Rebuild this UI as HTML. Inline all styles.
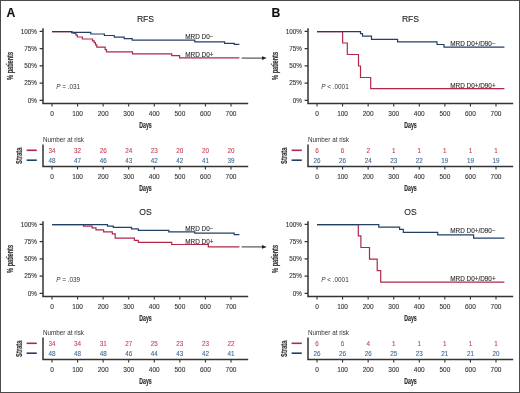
<!DOCTYPE html>
<html><head><meta charset="utf-8"><style>
html,body{margin:0;padding:0;background:#fff;width:520px;height:393px;overflow:hidden;position:relative}
svg text{font-family:"Liberation Sans", sans-serif;stroke-width:0.1px}
svg{filter:blur(0.35px)}
</style></head><body>
<svg width="520" height="393" viewBox="0 0 520 393" style="display:block" font-family="'Liberation Sans', sans-serif">
<rect x="0" y="0" width="520" height="393" fill="#fff"/>
<g transform="translate(0,0)">
<text x="6.5" y="16.9" font-size="12.2" font-weight="bold" fill="#111" stroke="#111" stroke-width="0.3">A</text>
<text x="145.50" y="22.20" font-size="8.6" text-anchor="middle" fill="#222" stroke="#222" >RFS</text>
<path d="M43,28.2V104.2 M42.2,103.5H248.2" stroke="#333" stroke-width="1.5" fill="none"/>
<path d="M39.6,31.40H43M39.6,48.65H43M39.6,65.90H43M39.6,83.15H43M39.6,100.40H43M52.00,103.5V106.6M77.57,103.5V106.6M103.14,103.5V106.6M128.71,103.5V106.6M154.28,103.5V106.6M179.85,103.5V106.6M205.42,103.5V106.6M230.99,103.5V106.6" stroke="#333" stroke-width="1.1" fill="none"/>
<text x="37.00" y="33.70" font-size="6.4" text-anchor="end" fill="#333" stroke="#333" >100%</text>
<text x="37.00" y="50.95" font-size="6.4" text-anchor="end" fill="#333" stroke="#333" >75%</text>
<text x="37.00" y="68.20" font-size="6.4" text-anchor="end" fill="#333" stroke="#333" >50%</text>
<text x="37.00" y="85.45" font-size="6.4" text-anchor="end" fill="#333" stroke="#333" >25%</text>
<text x="37.00" y="102.70" font-size="6.4" text-anchor="end" fill="#333" stroke="#333" >0%</text>
<text x="52.00" y="115.80" font-size="6.5" text-anchor="middle" fill="#333" stroke="#333" >0</text>
<text x="77.57" y="115.80" font-size="6.5" text-anchor="middle" fill="#333" stroke="#333" >100</text>
<text x="103.14" y="115.80" font-size="6.5" text-anchor="middle" fill="#333" stroke="#333" >200</text>
<text x="128.71" y="115.80" font-size="6.5" text-anchor="middle" fill="#333" stroke="#333" >300</text>
<text x="154.28" y="115.80" font-size="6.5" text-anchor="middle" fill="#333" stroke="#333" >400</text>
<text x="179.85" y="115.80" font-size="6.5" text-anchor="middle" fill="#333" stroke="#333" >500</text>
<text x="205.42" y="115.80" font-size="6.5" text-anchor="middle" fill="#333" stroke="#333" >600</text>
<text x="230.99" y="115.80" font-size="6.5" text-anchor="middle" fill="#333" stroke="#333" >700</text>
<text x="145.5" y="127.8" font-size="8.2" font-weight="bold" text-anchor="middle" fill="#333" stroke="#333" style="stroke-width:0.2px" textLength="12.4" lengthAdjust="spacingAndGlyphs">Days</text>
<text transform="translate(13.3,65.9) rotate(-90)" x="0" y="0" font-size="8.2" font-weight="bold" text-anchor="middle" fill="#333" stroke="#333" style="stroke-width:0.2px" textLength="28" lengthAdjust="spacingAndGlyphs">% patients</text>
<text x="56.2" y="89.2" font-size="6.4" fill="#333"><tspan font-style="italic">P</tspan> = .031</text>
<path d="M52.00,31.70H71.80V32.90H73.90V33.50H76.00V35.20H77.30V37.00H82.40V39.00H92.50V40.80H94.20V42.60H95.50V44.80H96.80V47.20H105.20V49.60H106.50V51.80H132.50V53.80H171.80V55.70H179.60V57.90H239.40" stroke="#b0294a" stroke-width="1.2" fill="none"/>
<path d="M52.00,31.70H71.80V32.30H90.80V34.00H104.40V35.50H114.20V37.10H124.20V38.60H132.20V40.20H194.80V41.80H224.60V43.30H234.20V44.40H239.40" stroke="#223f66" stroke-width="1.2" fill="none"/>
<text x="185.20" y="38.60" font-size="6.4" text-anchor="start" fill="#2a2a2a" stroke="#2a2a2a" >MRD D0&#8722;</text>
<text x="185.20" y="57.20" font-size="6.4" text-anchor="start" fill="#2a2a2a" stroke="#2a2a2a" >MRD D0+</text>
<path d="M241.7,58.1H262.5" stroke="#444" stroke-width="1.1"/>
<path d="M262,56.2L266.8,58.1L262,60.0Z" fill="#222"/>
<text x="43" y="141.8" font-size="6.3" fill="#333">Number at risk</text>
<path d="M26.6,150.3H36.8" stroke="#b0294a" stroke-width="1.6"/>
<path d="M26.6,160.2H36.8" stroke="#223f66" stroke-width="1.6"/>
<text transform="translate(21.6,155.7) rotate(-90)" x="0" y="0" font-size="8.4" font-weight="bold" text-anchor="middle" fill="#333" stroke="#333" style="stroke-width:0.2px" textLength="16.4" lengthAdjust="spacingAndGlyphs">Strata</text>
<path d="M43,144.6V167.2 M42.2,166.5H248.2" stroke="#333" stroke-width="1.5" fill="none"/>
<path d="M52.00,166.5V169.6M77.57,166.5V169.6M103.14,166.5V169.6M128.71,166.5V169.6M154.28,166.5V169.6M179.85,166.5V169.6M205.42,166.5V169.6M230.99,166.5V169.6" stroke="#333" stroke-width="1.1" fill="none"/>
<text x="52.00" y="152.50" font-size="6.3" text-anchor="middle" fill="#c9445e" stroke="#c9445e" >34</text>
<text x="52.00" y="162.60" font-size="6.3" text-anchor="middle" fill="#466a94" stroke="#466a94" >48</text>
<text x="52.00" y="178.60" font-size="6.5" text-anchor="middle" fill="#333" stroke="#333" >0</text>
<text x="77.57" y="152.50" font-size="6.3" text-anchor="middle" fill="#c9445e" stroke="#c9445e" >32</text>
<text x="77.57" y="162.60" font-size="6.3" text-anchor="middle" fill="#466a94" stroke="#466a94" >47</text>
<text x="77.57" y="178.60" font-size="6.5" text-anchor="middle" fill="#333" stroke="#333" >100</text>
<text x="103.14" y="152.50" font-size="6.3" text-anchor="middle" fill="#c9445e" stroke="#c9445e" >26</text>
<text x="103.14" y="162.60" font-size="6.3" text-anchor="middle" fill="#466a94" stroke="#466a94" >46</text>
<text x="103.14" y="178.60" font-size="6.5" text-anchor="middle" fill="#333" stroke="#333" >200</text>
<text x="128.71" y="152.50" font-size="6.3" text-anchor="middle" fill="#c9445e" stroke="#c9445e" >24</text>
<text x="128.71" y="162.60" font-size="6.3" text-anchor="middle" fill="#466a94" stroke="#466a94" >43</text>
<text x="128.71" y="178.60" font-size="6.5" text-anchor="middle" fill="#333" stroke="#333" >300</text>
<text x="154.28" y="152.50" font-size="6.3" text-anchor="middle" fill="#c9445e" stroke="#c9445e" >23</text>
<text x="154.28" y="162.60" font-size="6.3" text-anchor="middle" fill="#466a94" stroke="#466a94" >42</text>
<text x="154.28" y="178.60" font-size="6.5" text-anchor="middle" fill="#333" stroke="#333" >400</text>
<text x="179.85" y="152.50" font-size="6.3" text-anchor="middle" fill="#c9445e" stroke="#c9445e" >20</text>
<text x="179.85" y="162.60" font-size="6.3" text-anchor="middle" fill="#466a94" stroke="#466a94" >42</text>
<text x="179.85" y="178.60" font-size="6.5" text-anchor="middle" fill="#333" stroke="#333" >500</text>
<text x="205.42" y="152.50" font-size="6.3" text-anchor="middle" fill="#c9445e" stroke="#c9445e" >20</text>
<text x="205.42" y="162.60" font-size="6.3" text-anchor="middle" fill="#466a94" stroke="#466a94" >41</text>
<text x="205.42" y="178.60" font-size="6.5" text-anchor="middle" fill="#333" stroke="#333" >600</text>
<text x="230.99" y="152.50" font-size="6.3" text-anchor="middle" fill="#c9445e" stroke="#c9445e" >20</text>
<text x="230.99" y="162.60" font-size="6.3" text-anchor="middle" fill="#466a94" stroke="#466a94" >39</text>
<text x="230.99" y="178.60" font-size="6.5" text-anchor="middle" fill="#333" stroke="#333" >700</text>
<text x="145.5" y="191.3" font-size="8.2" font-weight="bold" text-anchor="middle" fill="#333" stroke="#333" style="stroke-width:0.2px" textLength="12.4" lengthAdjust="spacingAndGlyphs">Days</text>
</g>
<g transform="translate(265,0)">
<text x="6.5" y="16.9" font-size="12.2" font-weight="bold" fill="#111" stroke="#111" stroke-width="0.3">B</text>
<text x="145.50" y="22.20" font-size="8.6" text-anchor="middle" fill="#222" stroke="#222" >RFS</text>
<path d="M43,28.2V104.2 M42.2,103.5H248.2" stroke="#333" stroke-width="1.5" fill="none"/>
<path d="M39.6,31.40H43M39.6,48.65H43M39.6,65.90H43M39.6,83.15H43M39.6,100.40H43M52.00,103.5V106.6M77.57,103.5V106.6M103.14,103.5V106.6M128.71,103.5V106.6M154.28,103.5V106.6M179.85,103.5V106.6M205.42,103.5V106.6M230.99,103.5V106.6" stroke="#333" stroke-width="1.1" fill="none"/>
<text x="37.00" y="33.70" font-size="6.4" text-anchor="end" fill="#333" stroke="#333" >100%</text>
<text x="37.00" y="50.95" font-size="6.4" text-anchor="end" fill="#333" stroke="#333" >75%</text>
<text x="37.00" y="68.20" font-size="6.4" text-anchor="end" fill="#333" stroke="#333" >50%</text>
<text x="37.00" y="85.45" font-size="6.4" text-anchor="end" fill="#333" stroke="#333" >25%</text>
<text x="37.00" y="102.70" font-size="6.4" text-anchor="end" fill="#333" stroke="#333" >0%</text>
<text x="52.00" y="115.80" font-size="6.5" text-anchor="middle" fill="#333" stroke="#333" >0</text>
<text x="77.57" y="115.80" font-size="6.5" text-anchor="middle" fill="#333" stroke="#333" >100</text>
<text x="103.14" y="115.80" font-size="6.5" text-anchor="middle" fill="#333" stroke="#333" >200</text>
<text x="128.71" y="115.80" font-size="6.5" text-anchor="middle" fill="#333" stroke="#333" >300</text>
<text x="154.28" y="115.80" font-size="6.5" text-anchor="middle" fill="#333" stroke="#333" >400</text>
<text x="179.85" y="115.80" font-size="6.5" text-anchor="middle" fill="#333" stroke="#333" >500</text>
<text x="205.42" y="115.80" font-size="6.5" text-anchor="middle" fill="#333" stroke="#333" >600</text>
<text x="230.99" y="115.80" font-size="6.5" text-anchor="middle" fill="#333" stroke="#333" >700</text>
<text x="145.5" y="127.8" font-size="8.2" font-weight="bold" text-anchor="middle" fill="#333" stroke="#333" style="stroke-width:0.2px" textLength="12.4" lengthAdjust="spacingAndGlyphs">Days</text>
<text transform="translate(13.3,65.9) rotate(-90)" x="0" y="0" font-size="8.2" font-weight="bold" text-anchor="middle" fill="#333" stroke="#333" style="stroke-width:0.2px" textLength="28" lengthAdjust="spacingAndGlyphs">% patients</text>
<text x="56.2" y="89.2" font-size="6.4" fill="#333"><tspan font-style="italic">P</tspan> &lt; .0001</text>
<path d="M52.00,31.70H77.60V43.00H82.30V54.50H93.50V66.00H95.50V77.50H105.70V88.60H239.40" stroke="#b0294a" stroke-width="1.2" fill="none"/>
<path d="M52.00,31.70H95.50V33.60H97.50V36.20H106.50V39.30H132.60V41.90H172.00V44.50H179.00V47.20H239.40" stroke="#223f66" stroke-width="1.2" fill="none"/>
<text x="185.20" y="46.20" font-size="6.4" text-anchor="start" fill="#2a2a2a" stroke="#2a2a2a" >MRD D0+/D90&#8722;</text>
<text x="185.20" y="87.60" font-size="6.4" text-anchor="start" fill="#2a2a2a" stroke="#2a2a2a" >MRD D0+/D90+</text>
<text x="43" y="141.8" font-size="6.3" fill="#333">Number at risk</text>
<path d="M26.6,150.3H36.8" stroke="#b0294a" stroke-width="1.6"/>
<path d="M26.6,160.2H36.8" stroke="#223f66" stroke-width="1.6"/>
<text transform="translate(21.6,155.7) rotate(-90)" x="0" y="0" font-size="8.4" font-weight="bold" text-anchor="middle" fill="#333" stroke="#333" style="stroke-width:0.2px" textLength="16.4" lengthAdjust="spacingAndGlyphs">Strata</text>
<path d="M43,144.6V167.2 M42.2,166.5H248.2" stroke="#333" stroke-width="1.5" fill="none"/>
<path d="M52.00,166.5V169.6M77.57,166.5V169.6M103.14,166.5V169.6M128.71,166.5V169.6M154.28,166.5V169.6M179.85,166.5V169.6M205.42,166.5V169.6M230.99,166.5V169.6" stroke="#333" stroke-width="1.1" fill="none"/>
<text x="52.00" y="152.50" font-size="6.3" text-anchor="middle" fill="#c9445e" stroke="#c9445e" >6</text>
<text x="52.00" y="162.60" font-size="6.3" text-anchor="middle" fill="#466a94" stroke="#466a94" >26</text>
<text x="52.00" y="178.60" font-size="6.5" text-anchor="middle" fill="#333" stroke="#333" >0</text>
<text x="77.57" y="152.50" font-size="6.3" text-anchor="middle" fill="#c9445e" stroke="#c9445e" >6</text>
<text x="77.57" y="162.60" font-size="6.3" text-anchor="middle" fill="#466a94" stroke="#466a94" >26</text>
<text x="77.57" y="178.60" font-size="6.5" text-anchor="middle" fill="#333" stroke="#333" >100</text>
<text x="103.14" y="152.50" font-size="6.3" text-anchor="middle" fill="#c9445e" stroke="#c9445e" >2</text>
<text x="103.14" y="162.60" font-size="6.3" text-anchor="middle" fill="#466a94" stroke="#466a94" >24</text>
<text x="103.14" y="178.60" font-size="6.5" text-anchor="middle" fill="#333" stroke="#333" >200</text>
<text x="128.71" y="152.50" font-size="6.3" text-anchor="middle" fill="#c9445e" stroke="#c9445e" >1</text>
<text x="128.71" y="162.60" font-size="6.3" text-anchor="middle" fill="#466a94" stroke="#466a94" >23</text>
<text x="128.71" y="178.60" font-size="6.5" text-anchor="middle" fill="#333" stroke="#333" >300</text>
<text x="154.28" y="152.50" font-size="6.3" text-anchor="middle" fill="#c9445e" stroke="#c9445e" >1</text>
<text x="154.28" y="162.60" font-size="6.3" text-anchor="middle" fill="#466a94" stroke="#466a94" >22</text>
<text x="154.28" y="178.60" font-size="6.5" text-anchor="middle" fill="#333" stroke="#333" >400</text>
<text x="179.85" y="152.50" font-size="6.3" text-anchor="middle" fill="#c9445e" stroke="#c9445e" >1</text>
<text x="179.85" y="162.60" font-size="6.3" text-anchor="middle" fill="#466a94" stroke="#466a94" >19</text>
<text x="179.85" y="178.60" font-size="6.5" text-anchor="middle" fill="#333" stroke="#333" >500</text>
<text x="205.42" y="152.50" font-size="6.3" text-anchor="middle" fill="#c9445e" stroke="#c9445e" >1</text>
<text x="205.42" y="162.60" font-size="6.3" text-anchor="middle" fill="#466a94" stroke="#466a94" >19</text>
<text x="205.42" y="178.60" font-size="6.5" text-anchor="middle" fill="#333" stroke="#333" >600</text>
<text x="230.99" y="152.50" font-size="6.3" text-anchor="middle" fill="#c9445e" stroke="#c9445e" >1</text>
<text x="230.99" y="162.60" font-size="6.3" text-anchor="middle" fill="#466a94" stroke="#466a94" >19</text>
<text x="230.99" y="178.60" font-size="6.5" text-anchor="middle" fill="#333" stroke="#333" >700</text>
<text x="145.5" y="191.3" font-size="8.2" font-weight="bold" text-anchor="middle" fill="#333" stroke="#333" style="stroke-width:0.2px" textLength="12.4" lengthAdjust="spacingAndGlyphs">Days</text>
</g>
<g transform="translate(0,193)">
<text x="145.50" y="22.20" font-size="8.6" text-anchor="middle" fill="#222" stroke="#222" >OS</text>
<path d="M43,28.2V104.2 M42.2,103.5H248.2" stroke="#333" stroke-width="1.5" fill="none"/>
<path d="M39.6,31.40H43M39.6,48.65H43M39.6,65.90H43M39.6,83.15H43M39.6,100.40H43M52.00,103.5V106.6M77.57,103.5V106.6M103.14,103.5V106.6M128.71,103.5V106.6M154.28,103.5V106.6M179.85,103.5V106.6M205.42,103.5V106.6M230.99,103.5V106.6" stroke="#333" stroke-width="1.1" fill="none"/>
<text x="37.00" y="33.70" font-size="6.4" text-anchor="end" fill="#333" stroke="#333" >100%</text>
<text x="37.00" y="50.95" font-size="6.4" text-anchor="end" fill="#333" stroke="#333" >75%</text>
<text x="37.00" y="68.20" font-size="6.4" text-anchor="end" fill="#333" stroke="#333" >50%</text>
<text x="37.00" y="85.45" font-size="6.4" text-anchor="end" fill="#333" stroke="#333" >25%</text>
<text x="37.00" y="102.70" font-size="6.4" text-anchor="end" fill="#333" stroke="#333" >0%</text>
<text x="52.00" y="115.80" font-size="6.5" text-anchor="middle" fill="#333" stroke="#333" >0</text>
<text x="77.57" y="115.80" font-size="6.5" text-anchor="middle" fill="#333" stroke="#333" >100</text>
<text x="103.14" y="115.80" font-size="6.5" text-anchor="middle" fill="#333" stroke="#333" >200</text>
<text x="128.71" y="115.80" font-size="6.5" text-anchor="middle" fill="#333" stroke="#333" >300</text>
<text x="154.28" y="115.80" font-size="6.5" text-anchor="middle" fill="#333" stroke="#333" >400</text>
<text x="179.85" y="115.80" font-size="6.5" text-anchor="middle" fill="#333" stroke="#333" >500</text>
<text x="205.42" y="115.80" font-size="6.5" text-anchor="middle" fill="#333" stroke="#333" >600</text>
<text x="230.99" y="115.80" font-size="6.5" text-anchor="middle" fill="#333" stroke="#333" >700</text>
<text x="145.5" y="127.8" font-size="8.2" font-weight="bold" text-anchor="middle" fill="#333" stroke="#333" style="stroke-width:0.2px" textLength="12.4" lengthAdjust="spacingAndGlyphs">Days</text>
<text transform="translate(13.3,65.9) rotate(-90)" x="0" y="0" font-size="8.2" font-weight="bold" text-anchor="middle" fill="#333" stroke="#333" style="stroke-width:0.2px" textLength="28" lengthAdjust="spacingAndGlyphs">% patients</text>
<text x="56.2" y="89.2" font-size="6.4" fill="#333"><tspan font-style="italic">P</tspan> = .039</text>
<path d="M52.00,31.70H83.50V33.10H92.10V34.80H96.00V36.90H103.60V38.80H112.30V40.90H115.20V45.20H134.40V47.30H138.30V49.40H171.70V51.50H208.30V53.80H239.40" stroke="#b0294a" stroke-width="1.2" fill="none"/>
<path d="M52.00,31.70H107.50V33.10H113.30V34.40H131.50V35.80H138.30V37.30H168.80V38.80H194.80V40.20H234.20V41.70H239.40" stroke="#223f66" stroke-width="1.2" fill="none"/>
<text x="185.20" y="37.70" font-size="6.4" text-anchor="start" fill="#2a2a2a" stroke="#2a2a2a" >MRD D0&#8722;</text>
<text x="185.20" y="50.90" font-size="6.4" text-anchor="start" fill="#2a2a2a" stroke="#2a2a2a" >MRD D0+</text>
<path d="M241.7,53.900000000000006H262.5" stroke="#444" stroke-width="1.1"/>
<path d="M262,52.00000000000001L266.8,53.900000000000006L262,55.800000000000004Z" fill="#222"/>
<text x="43" y="141.8" font-size="6.3" fill="#333">Number at risk</text>
<path d="M26.6,150.3H36.8" stroke="#b0294a" stroke-width="1.6"/>
<path d="M26.6,160.2H36.8" stroke="#223f66" stroke-width="1.6"/>
<text transform="translate(21.6,155.7) rotate(-90)" x="0" y="0" font-size="8.4" font-weight="bold" text-anchor="middle" fill="#333" stroke="#333" style="stroke-width:0.2px" textLength="16.4" lengthAdjust="spacingAndGlyphs">Strata</text>
<path d="M43,144.6V167.2 M42.2,166.5H248.2" stroke="#333" stroke-width="1.5" fill="none"/>
<path d="M52.00,166.5V169.6M77.57,166.5V169.6M103.14,166.5V169.6M128.71,166.5V169.6M154.28,166.5V169.6M179.85,166.5V169.6M205.42,166.5V169.6M230.99,166.5V169.6" stroke="#333" stroke-width="1.1" fill="none"/>
<text x="52.00" y="152.50" font-size="6.3" text-anchor="middle" fill="#c9445e" stroke="#c9445e" >34</text>
<text x="52.00" y="162.60" font-size="6.3" text-anchor="middle" fill="#466a94" stroke="#466a94" >48</text>
<text x="52.00" y="178.60" font-size="6.5" text-anchor="middle" fill="#333" stroke="#333" >0</text>
<text x="77.57" y="152.50" font-size="6.3" text-anchor="middle" fill="#c9445e" stroke="#c9445e" >34</text>
<text x="77.57" y="162.60" font-size="6.3" text-anchor="middle" fill="#466a94" stroke="#466a94" >48</text>
<text x="77.57" y="178.60" font-size="6.5" text-anchor="middle" fill="#333" stroke="#333" >100</text>
<text x="103.14" y="152.50" font-size="6.3" text-anchor="middle" fill="#c9445e" stroke="#c9445e" >31</text>
<text x="103.14" y="162.60" font-size="6.3" text-anchor="middle" fill="#466a94" stroke="#466a94" >48</text>
<text x="103.14" y="178.60" font-size="6.5" text-anchor="middle" fill="#333" stroke="#333" >200</text>
<text x="128.71" y="152.50" font-size="6.3" text-anchor="middle" fill="#c9445e" stroke="#c9445e" >27</text>
<text x="128.71" y="162.60" font-size="6.3" text-anchor="middle" fill="#466a94" stroke="#466a94" >46</text>
<text x="128.71" y="178.60" font-size="6.5" text-anchor="middle" fill="#333" stroke="#333" >300</text>
<text x="154.28" y="152.50" font-size="6.3" text-anchor="middle" fill="#c9445e" stroke="#c9445e" >25</text>
<text x="154.28" y="162.60" font-size="6.3" text-anchor="middle" fill="#466a94" stroke="#466a94" >44</text>
<text x="154.28" y="178.60" font-size="6.5" text-anchor="middle" fill="#333" stroke="#333" >400</text>
<text x="179.85" y="152.50" font-size="6.3" text-anchor="middle" fill="#c9445e" stroke="#c9445e" >23</text>
<text x="179.85" y="162.60" font-size="6.3" text-anchor="middle" fill="#466a94" stroke="#466a94" >43</text>
<text x="179.85" y="178.60" font-size="6.5" text-anchor="middle" fill="#333" stroke="#333" >500</text>
<text x="205.42" y="152.50" font-size="6.3" text-anchor="middle" fill="#c9445e" stroke="#c9445e" >23</text>
<text x="205.42" y="162.60" font-size="6.3" text-anchor="middle" fill="#466a94" stroke="#466a94" >42</text>
<text x="205.42" y="178.60" font-size="6.5" text-anchor="middle" fill="#333" stroke="#333" >600</text>
<text x="230.99" y="152.50" font-size="6.3" text-anchor="middle" fill="#c9445e" stroke="#c9445e" >22</text>
<text x="230.99" y="162.60" font-size="6.3" text-anchor="middle" fill="#466a94" stroke="#466a94" >41</text>
<text x="230.99" y="178.60" font-size="6.5" text-anchor="middle" fill="#333" stroke="#333" >700</text>
<text x="145.5" y="191.3" font-size="8.2" font-weight="bold" text-anchor="middle" fill="#333" stroke="#333" style="stroke-width:0.2px" textLength="12.4" lengthAdjust="spacingAndGlyphs">Days</text>
</g>
<g transform="translate(265,193)">
<text x="145.50" y="22.20" font-size="8.6" text-anchor="middle" fill="#222" stroke="#222" >OS</text>
<path d="M43,28.2V104.2 M42.2,103.5H248.2" stroke="#333" stroke-width="1.5" fill="none"/>
<path d="M39.6,31.40H43M39.6,48.65H43M39.6,65.90H43M39.6,83.15H43M39.6,100.40H43M52.00,103.5V106.6M77.57,103.5V106.6M103.14,103.5V106.6M128.71,103.5V106.6M154.28,103.5V106.6M179.85,103.5V106.6M205.42,103.5V106.6M230.99,103.5V106.6" stroke="#333" stroke-width="1.1" fill="none"/>
<text x="37.00" y="33.70" font-size="6.4" text-anchor="end" fill="#333" stroke="#333" >100%</text>
<text x="37.00" y="50.95" font-size="6.4" text-anchor="end" fill="#333" stroke="#333" >75%</text>
<text x="37.00" y="68.20" font-size="6.4" text-anchor="end" fill="#333" stroke="#333" >50%</text>
<text x="37.00" y="85.45" font-size="6.4" text-anchor="end" fill="#333" stroke="#333" >25%</text>
<text x="37.00" y="102.70" font-size="6.4" text-anchor="end" fill="#333" stroke="#333" >0%</text>
<text x="52.00" y="115.80" font-size="6.5" text-anchor="middle" fill="#333" stroke="#333" >0</text>
<text x="77.57" y="115.80" font-size="6.5" text-anchor="middle" fill="#333" stroke="#333" >100</text>
<text x="103.14" y="115.80" font-size="6.5" text-anchor="middle" fill="#333" stroke="#333" >200</text>
<text x="128.71" y="115.80" font-size="6.5" text-anchor="middle" fill="#333" stroke="#333" >300</text>
<text x="154.28" y="115.80" font-size="6.5" text-anchor="middle" fill="#333" stroke="#333" >400</text>
<text x="179.85" y="115.80" font-size="6.5" text-anchor="middle" fill="#333" stroke="#333" >500</text>
<text x="205.42" y="115.80" font-size="6.5" text-anchor="middle" fill="#333" stroke="#333" >600</text>
<text x="230.99" y="115.80" font-size="6.5" text-anchor="middle" fill="#333" stroke="#333" >700</text>
<text x="145.5" y="127.8" font-size="8.2" font-weight="bold" text-anchor="middle" fill="#333" stroke="#333" style="stroke-width:0.2px" textLength="12.4" lengthAdjust="spacingAndGlyphs">Days</text>
<text transform="translate(13.3,65.9) rotate(-90)" x="0" y="0" font-size="8.2" font-weight="bold" text-anchor="middle" fill="#333" stroke="#333" style="stroke-width:0.2px" textLength="28" lengthAdjust="spacingAndGlyphs">% patients</text>
<text x="56.2" y="89.2" font-size="6.4" fill="#333"><tspan font-style="italic">P</tspan> &lt; .0001</text>
<path d="M52.00,31.70H93.30V42.90H95.90V54.50H104.50V66.10H112.20V77.60H115.70V89.10H239.40" stroke="#b0294a" stroke-width="1.2" fill="none"/>
<path d="M52.00,31.70H113.80V34.20H134.60V36.40H138.30V39.30H172.70V41.90H208.60V45.10H239.40" stroke="#223f66" stroke-width="1.2" fill="none"/>
<text x="185.20" y="40.40" font-size="6.4" text-anchor="start" fill="#2a2a2a" stroke="#2a2a2a" >MRD D0+/D90&#8722;</text>
<text x="185.20" y="87.80" font-size="6.4" text-anchor="start" fill="#2a2a2a" stroke="#2a2a2a" >MRD D0+/D90+</text>
<text x="43" y="141.8" font-size="6.3" fill="#333">Number at risk</text>
<path d="M26.6,150.3H36.8" stroke="#b0294a" stroke-width="1.6"/>
<path d="M26.6,160.2H36.8" stroke="#223f66" stroke-width="1.6"/>
<text transform="translate(21.6,155.7) rotate(-90)" x="0" y="0" font-size="8.4" font-weight="bold" text-anchor="middle" fill="#333" stroke="#333" style="stroke-width:0.2px" textLength="16.4" lengthAdjust="spacingAndGlyphs">Strata</text>
<path d="M43,144.6V167.2 M42.2,166.5H248.2" stroke="#333" stroke-width="1.5" fill="none"/>
<path d="M52.00,166.5V169.6M77.57,166.5V169.6M103.14,166.5V169.6M128.71,166.5V169.6M154.28,166.5V169.6M179.85,166.5V169.6M205.42,166.5V169.6M230.99,166.5V169.6" stroke="#333" stroke-width="1.1" fill="none"/>
<text x="52.00" y="152.50" font-size="6.3" text-anchor="middle" fill="#c9445e" stroke="#c9445e" >6</text>
<text x="52.00" y="162.60" font-size="6.3" text-anchor="middle" fill="#466a94" stroke="#466a94" >26</text>
<text x="52.00" y="178.60" font-size="6.5" text-anchor="middle" fill="#333" stroke="#333" >0</text>
<text x="77.57" y="152.50" font-size="6.3" text-anchor="middle" fill="#c9445e" stroke="#c9445e" >6</text>
<text x="77.57" y="162.60" font-size="6.3" text-anchor="middle" fill="#466a94" stroke="#466a94" >26</text>
<text x="77.57" y="178.60" font-size="6.5" text-anchor="middle" fill="#333" stroke="#333" >100</text>
<text x="103.14" y="152.50" font-size="6.3" text-anchor="middle" fill="#c9445e" stroke="#c9445e" >4</text>
<text x="103.14" y="162.60" font-size="6.3" text-anchor="middle" fill="#466a94" stroke="#466a94" >26</text>
<text x="103.14" y="178.60" font-size="6.5" text-anchor="middle" fill="#333" stroke="#333" >200</text>
<text x="128.71" y="152.50" font-size="6.3" text-anchor="middle" fill="#c9445e" stroke="#c9445e" >1</text>
<text x="128.71" y="162.60" font-size="6.3" text-anchor="middle" fill="#466a94" stroke="#466a94" >25</text>
<text x="128.71" y="178.60" font-size="6.5" text-anchor="middle" fill="#333" stroke="#333" >300</text>
<text x="154.28" y="152.50" font-size="6.3" text-anchor="middle" fill="#c9445e" stroke="#c9445e" >1</text>
<text x="154.28" y="162.60" font-size="6.3" text-anchor="middle" fill="#466a94" stroke="#466a94" >23</text>
<text x="154.28" y="178.60" font-size="6.5" text-anchor="middle" fill="#333" stroke="#333" >400</text>
<text x="179.85" y="152.50" font-size="6.3" text-anchor="middle" fill="#c9445e" stroke="#c9445e" >1</text>
<text x="179.85" y="162.60" font-size="6.3" text-anchor="middle" fill="#466a94" stroke="#466a94" >21</text>
<text x="179.85" y="178.60" font-size="6.5" text-anchor="middle" fill="#333" stroke="#333" >500</text>
<text x="205.42" y="152.50" font-size="6.3" text-anchor="middle" fill="#c9445e" stroke="#c9445e" >1</text>
<text x="205.42" y="162.60" font-size="6.3" text-anchor="middle" fill="#466a94" stroke="#466a94" >21</text>
<text x="205.42" y="178.60" font-size="6.5" text-anchor="middle" fill="#333" stroke="#333" >600</text>
<text x="230.99" y="152.50" font-size="6.3" text-anchor="middle" fill="#c9445e" stroke="#c9445e" >1</text>
<text x="230.99" y="162.60" font-size="6.3" text-anchor="middle" fill="#466a94" stroke="#466a94" >20</text>
<text x="230.99" y="178.60" font-size="6.5" text-anchor="middle" fill="#333" stroke="#333" >700</text>
<text x="145.5" y="191.3" font-size="8.2" font-weight="bold" text-anchor="middle" fill="#333" stroke="#333" style="stroke-width:0.2px" textLength="12.4" lengthAdjust="spacingAndGlyphs">Days</text>
</g>
</svg>
<div style="position:absolute;left:0;top:0;width:518px;height:391px;border:1px solid #4a4a4a"></div>
</body></html>
